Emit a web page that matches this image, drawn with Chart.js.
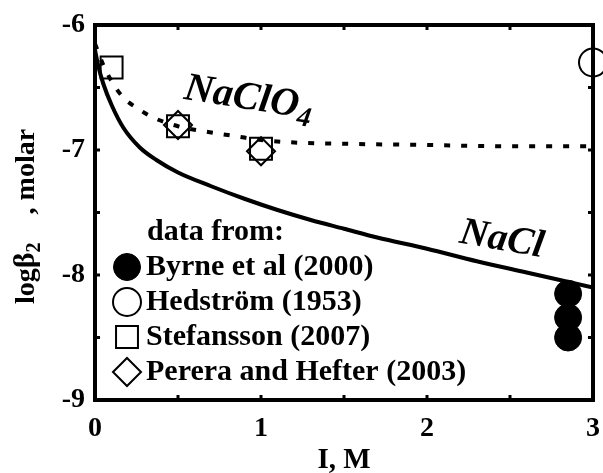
<!DOCTYPE html>
<html>
<head>
<meta charset="utf-8">
<script src="https://cdn.jsdelivr.net/npm/chart.js@4/dist/chart.umd.min.js"></script>
<style>
  html, body { margin: 0; padding: 0; background: #fff; }
  canvas { display: block; }
</style>
</head>
<body>
<canvas id="c" width="603" height="473"></canvas>
<script>
// Ionic strength (M) and log beta2 for the fitted curves
const naclI     = [0, 0.02, 0.05, 0.1, 0.17, 0.27, 0.37, 0.5, 0.7, 0.9, 1.1, 1.3, 1.5, 1.7, 2.0, 2.3, 2.6, 3.0];
const naclLogB  = [-6.2, -6.33, -6.47, -6.64, -6.82, -6.98, -7.08, -7.18, -7.29, -7.39, -7.48, -7.56, -7.63, -7.70, -7.79, -7.89, -7.98, -8.10];
const clo4I     = [0, 0.05, 0.1, 0.17, 0.26, 0.35, 0.5, 0.7, 0.85, 1.0, 1.2, 1.5, 2.0, 2.5, 3.0];
const clo4LogB  = [-6.15, -6.32, -6.45, -6.58, -6.67, -6.74, -6.81, -6.86, -6.89, -6.92, -6.94, -6.95, -6.96, -6.97, -6.97];

// Literature measurements
const byrneI      = [2.85, 2.85, 2.85];
const byrneLogB   = [-8.15, -8.34, -8.50];
const hedstromI   = [3.0];
const hedstromLogB = [-6.30];
const stefI       = [0.1, 0.5, 1.0];
const stefLogB    = [-6.34, -6.81, -6.99];
const pereraI     = [0.5, 1.0];
const pereraLogB  = [-6.80, -7.01];

// Axis ticks
const xTicks = [0, 1, 2, 3];
const yTicks = [-9, -8, -7, -6];
const xMinor = [0.5, 1.5, 2.5];
const yMinor = [-8.5, -7.5, -6.5];

const legendTitle = 'data from:';
const sourceLabels = ['Byrne et al (2000)', 'Hedström (1953)', 'Stefansson (2007)', 'Perera and Hefter (2003)'];

const pts = (xs, ys) => xs.map((x, i) => ({ x: x, y: ys[i] }));

const SERIF = '"Liberation Serif", "Times New Roman", serif';

const datasets = [
  { label: 'NaCl', data: pts(naclI, naclLogB), showLine: true, borderColor: '#000', borderWidth: 4,
    pointRadius: 0, cubicInterpolationMode: 'monotone', order: 5 },
  { label: 'NaClO4', data: pts(clo4I, clo4LogB), showLine: true, borderColor: '#000', borderWidth: 4,
    borderDash: [6, 11], pointRadius: 0, cubicInterpolationMode: 'monotone', order: 4 },
  { label: sourceLabels[0], data: pts(byrneI, byrneLogB), pointStyle: 'circle', pointRadius: 13.5,
    backgroundColor: '#000', borderColor: '#000', borderWidth: 1, clip: false, order: 3 },
  { label: sourceLabels[1], data: pts(hedstromI, hedstromLogB), pointStyle: 'circle', pointRadius: 14,
    backgroundColor: 'rgba(0,0,0,0)', borderColor: '#000', borderWidth: 2, clip: false, order: 2 },
  { label: sourceLabels[2], data: pts(stefI, stefLogB), pointStyle: 'rect', pointRadius: 15.5,
    backgroundColor: 'rgba(0,0,0,0)', borderColor: '#000', borderWidth: 2, clip: false, order: 1 },
  { label: sourceLabels[3], data: pts(pereraI, pereraLogB), pointStyle: 'rectRot', pointRadius: 14,
    backgroundColor: 'rgba(0,0,0,0)', borderColor: '#000', borderWidth: 2, clip: false, order: 0 }
];

// Frame, inward minor ticks, curve names, axis titles and the in-plot key
const decorations = {
  id: 'decorations',
  afterDatasetsDraw(chart) {
    const ctx = chart.ctx;
    const a = chart.chartArea;
    const xs = chart.scales.x, ys = chart.scales.y;
    ctx.save();

    // frame
    ctx.strokeStyle = '#000';
    ctx.lineWidth = 4;
    ctx.lineJoin = 'miter';
    ctx.strokeRect(a.left, a.top, a.right - a.left, a.bottom - a.top);

    // inward ticks
    ctx.lineWidth = 3;
    const tl = 5;
    ctx.beginPath();
    xMinor.concat(xTicks.slice(1, -1)).forEach(v => {
      const px = xs.getPixelForValue(v);
      ctx.moveTo(px, a.bottom); ctx.lineTo(px, a.bottom - tl);
      ctx.moveTo(px, a.top); ctx.lineTo(px, a.top + tl);
    });
    yMinor.concat(yTicks.slice(1, -1)).forEach(v => {
      const py = ys.getPixelForValue(v);
      ctx.moveTo(a.left, py); ctx.lineTo(a.left + tl, py);
      ctx.moveTo(a.right, py); ctx.lineTo(a.right - tl, py);
    });
    ctx.stroke();

    ctx.fillStyle = '#000';

    // curve names
    const drawName = (parts, xv, yv, angleDeg) => {
      ctx.save();
      ctx.translate(xs.getPixelForValue(xv), ys.getPixelForValue(yv));
      ctx.rotate(angleDeg * Math.PI / 180);
      ctx.textBaseline = 'alphabetic';
      ctx.textAlign = 'left';
      let x = 0;
      parts.forEach(p => {
        ctx.font = 'italic bold ' + p.size + 'px ' + SERIF;
        ctx.fillText(p.t, x, p.dy || 0);
        x += ctx.measureText(p.t).width;
      });
      ctx.restore();
    };
    drawName([{ t: 'NaClO', size: 40 }, { t: '4', size: 28, dy: 8 }], 0.53, -6.59, 9);
    drawName([{ t: 'NaCl', size: 39 }], 2.19, -7.74, 10);

    // x axis title
    ctx.font = 'bold 29px ' + SERIF;
    ctx.textAlign = 'center';
    ctx.textBaseline = 'alphabetic';
    ctx.fillText('I, M', (a.left + a.right) / 2, 468);

    // y axis title, rotated, with subscript
    ctx.save();
    ctx.translate(34, 304);
    ctx.rotate(-Math.PI / 2);
    ctx.textAlign = 'left';
    let x = 0;
    const yParts = [
      { t: 'log', size: 28, dy: 0 },
      { t: 'β', size: 30, dy: 0 },
      { t: '2', size: 20, dy: 6 },
      { t: '    , molar', size: 28, dy: 0 }
    ];
    yParts.forEach(p => {
      ctx.font = 'bold ' + p.size + 'px ' + SERIF;
      ctx.fillText(p.t, x, p.dy);
      x += ctx.measureText(p.t).width;
    });
    ctx.restore();

    // key inside the plot
    ctx.font = 'bold 30px ' + SERIF;
    ctx.textAlign = 'left';
    ctx.textBaseline = 'middle';
    ctx.fillText(legendTitle, 147, 232);
    const rowY = [267, 302, 337, 372];
    const draw = Chart.helpers && Chart.helpers.drawPoint;
    sourceLabels.forEach((label, i) => {
      const ds = chart.data.datasets[i + 2];
      ctx.save();
      ctx.lineWidth = ds.borderWidth;
      ctx.strokeStyle = ds.borderColor;
      ctx.fillStyle = ds.backgroundColor;
      if (draw) {
        draw(ctx, { pointStyle: ds.pointStyle, radius: ds.pointRadius, borderWidth: ds.borderWidth, rotation: 0 }, 127, rowY[i]);
      }
      ctx.restore();
      ctx.fillStyle = '#000';
      ctx.font = 'bold 30px ' + SERIF;
      ctx.fillText(label, 146, rowY[i]);
    });

    ctx.restore();
  }
};

new Chart(document.getElementById('c'), {
  type: 'scatter',
  data: { datasets: datasets },
  options: {
    responsive: false,
    animation: false,
    devicePixelRatio: 1,
    layout: { autoPadding: false, padding: { top: 25, right: 10, left: 0, bottom: 0 } },
    plugins: { legend: { display: false }, tooltip: { enabled: false } },
    scales: {
      x: {
        type: 'linear', min: 0, max: 3,
        afterFit: s => { s.height = 73; s.paddingLeft = 0; s.paddingRight = 0; },
        afterBuildTicks: s => { s.ticks = xTicks.map(v => ({ value: v })); },
        grid: { display: false, drawTicks: false },
        border: { display: false },
        ticks: { color: '#000', padding: 12, font: { family: SERIF, size: 28, weight: 'bold' },
                 callback: v => String(v) }
      },
      y: {
        type: 'linear', min: -9, max: -6,
        afterFit: s => { s.width = 95; s.paddingTop = 0; s.paddingBottom = 0; },
        afterBuildTicks: s => { s.ticks = yTicks.map(v => ({ value: v })); },
        grid: { display: false, drawTicks: false },
        border: { display: false },
        ticks: { color: '#000', padding: 10, font: { family: SERIF, size: 28, weight: 'bold' },
                 callback: v => String(v) }
      }
    }
  },
  plugins: [decorations]
});
</script>
</body>
</html>
